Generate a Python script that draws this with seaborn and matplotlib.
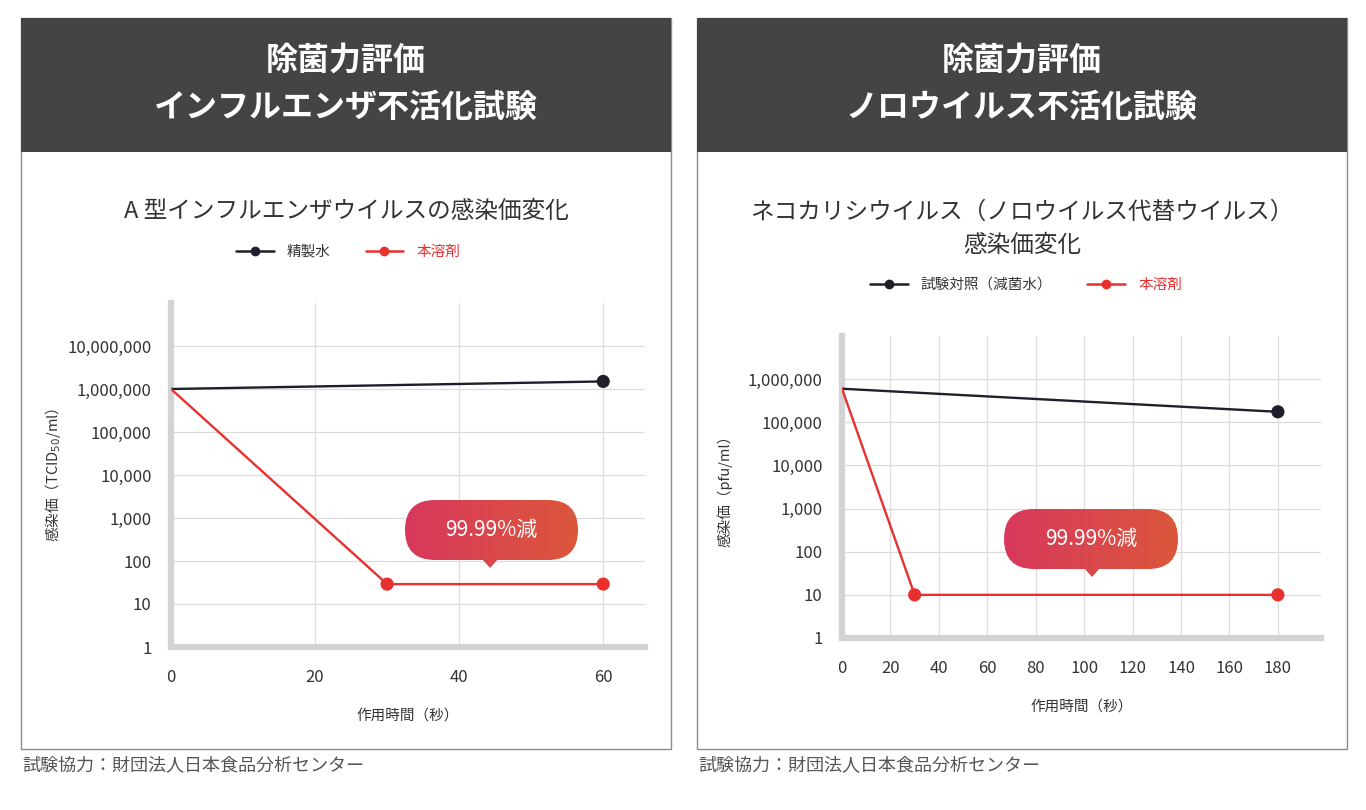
import numpy as np
import pandas as pd
import matplotlib
matplotlib.use('Agg')
import matplotlib.pyplot as plt
import seaborn as sns
from matplotlib.patches import FancyBboxPatch, Polygon, Rectangle
from matplotlib.lines import Line2D
from matplotlib.colors import LinearSegmentedColormap
from matplotlib.ticker import NullLocator, FixedLocator

sns.set_style('white')
plt.rcParams['font.family'] = ['Noto Sans CJK JP', 'DejaVu Sans']

# --- datos: インフルエンザ ---
flu_labels = ['精製水', '本溶剤']
flu_water_t = [0, 60]
flu_water_v = [1_000_000, 1_500_000]
flu_agent_t = [0, 30, 60]
flu_agent_v = [1_000_000, 29, 29]
flu_xticks = [0, 20, 40, 60]
flu_yticks = [1, 10, 100, 1_000, 10_000, 100_000, 1_000_000, 10_000_000]

# --- datos: ノロウイルス ---
noro_labels = ['試験対照（減菌水）', '本溶剤']
noro_ctrl_t = [0, 180]
noro_ctrl_v = [600_000, 175_000]
noro_agent_t = [0, 30, 180]
noro_agent_v = [600_000, 10, 10]
noro_xticks = [0, 20, 40, 60, 80, 100, 120, 140, 160, 180]
noro_yticks = [1, 10, 100, 1_000, 10_000, 100_000, 1_000_000]

DARK = '#1f1f2b'
RED = '#e8312f'
TXT = '#333333'
W, H = 1366, 810


def to_long(t1, v1, t2, v2, labels):
    a = pd.DataFrame({'time': t1, 'value': v1, 'series': labels[0]})
    b = pd.DataFrame({'time': t2, 'value': v2, 'series': labels[1]})
    return pd.concat([a, b], ignore_index=True)


def draw_chart(ax, df, labels, xticks, xlim, ylim, yticks, ylabel, xlab_y, ylab_x):
    pal = {labels[0]: DARK, labels[1]: RED}
    sns.lineplot(data=df, x='time', y='value', hue='series', palette=pal,
                 linewidth=1.7, legend=False, ax=ax, zorder=3)
    pts = df[df['time'] > 0]
    sns.scatterplot(data=pts, x='time', y='value', hue='series', palette=pal,
                    s=90, edgecolor='none', legend=False, ax=ax, zorder=4)
    ax.set_yscale('log')
    ax.set_xlim(*xlim)
    ax.set_ylim(*ylim)
    ax.yaxis.set_major_locator(FixedLocator(yticks))
    ax.yaxis.set_minor_locator(NullLocator())
    ax.set_yticklabels([f'{v:,}' for v in yticks])
    ax.set_xticks(xticks)
    ax.set_xticklabels([str(v) for v in xticks])
    ax.grid(True, color='#dcdcdc', linewidth=0.9)
    ax.set_axisbelow(True)
    for s in ['top', 'right']:
        ax.spines[s].set_visible(False)
    for s in ['left', 'bottom']:
        ax.spines[s].set_color('#d3d3d5')
        ax.spines[s].set_linewidth(4.5)
    ax.tick_params(axis='y', length=0, pad=14, labelsize=12, labelcolor=TXT)
    ax.tick_params(axis='x', length=0, pad=16, labelsize=12, labelcolor=TXT)
    ax.set_xlabel('作用時間（秒）', fontsize=10.5, color=TXT)
    ax.set_ylabel(ylabel, fontsize=10.5, color=TXT)
    ax.xaxis.set_label_coords(0.5, xlab_y)
    ax.yaxis.set_label_coords(ylab_x, 0.5)


fig = plt.figure(figsize=(W / 100, H / 100), dpi=100)

ax1 = fig.add_axes([171 / W, 1 - 647 / H, 474 / W, 344 / H])
ax2 = fig.add_axes([842 / W, 1 - 638 / H, 479 / W, 302 / H])

df_flu = to_long(flu_water_t, flu_water_v, flu_agent_t, flu_agent_v, flu_labels)
df_noro = to_long(noro_ctrl_t, noro_ctrl_v, noro_agent_t, noro_agent_v, noro_labels)

draw_chart(ax1, df_flu, flu_labels, flu_xticks, (0, 65.8), (1, 1e8), flu_yticks,
           r'感染価（TCID$_{50}$/ml）', -0.180, -0.228)
draw_chart(ax2, df_noro, noro_labels, noro_xticks, (0, 197.8), (1, 1e7), noro_yticks,
           '感染価（pfu/ml）', -0.205, -0.2276)

# leyendas
for labels, cx, cy in [(flu_labels, 348, 252), (noro_labels, 1026, 285)]:
    handles = [Line2D([], [], color=DARK, marker='o', markersize=6, lw=1.8),
               Line2D([], [], color=RED, marker='o', markersize=6, lw=1.8)]
    leg = fig.legend(handles, labels, loc='center', bbox_to_anchor=(cx / W, 1 - cy / H),
                     ncol=2, frameon=False, fontsize=10.5, handlelength=2.6,
                     columnspacing=2.4, handletextpad=0.9)
    leg.get_texts()[0].set_color(TXT)
    leg.get_texts()[1].set_color(RED)

# capa de decoracion en pixeles
ov = fig.add_axes([0, 0, 1, 1], zorder=10)
ov.patch.set_visible(False)
ov.axis('off')

headers = [('除菌力評価', 'インフルエンザ不活化試験', 21),
           ('除菌力評価', 'ノロウイルス不活化試験', 697)]
for line1, line2, x0 in headers:
    ov.add_patch(Rectangle((x0, 18), 650, 731, facecolor='none', edgecolor='#8c8c8c', lw=1))
    ov.add_patch(Rectangle((x0, 18), 650, 134, facecolor='#444444', edgecolor='none'))
    ov.text(x0 + 325, 61, line1, color='white', fontsize=23, fontweight='bold',
            ha='center', va='center')
    ov.text(x0 + 325, 108, line2, color='white', fontsize=23, fontweight='bold',
            ha='center', va='center')
    ov.text(x0 + 1, 765, '試験協力：財団法人日本食品分析センター', color='#555555',
            fontsize=13, ha='left', va='center')

ov.text(346, 212, 'A 型インフルエンザウイルスの感染価変化', color=TXT, fontsize=17,
        ha='center', va='center')
ov.text(1022, 212, 'ネコカリシウイルス（ノロウイルス代替ウイルス）', color=TXT, fontsize=17,
        ha='center', va='center')
ov.text(1022, 245, '感染価変化', color=TXT, fontsize=17, ha='center', va='center')

# burbujas "99.99%減"
c_left, c_right = '#d8385d', '#db573b'
cmap = LinearSegmentedColormap.from_list('bub', [c_left, c_right])
for bx, by, bw, bh, tipx in [(405, 500, 173, 60, 490), (1004, 509, 174, 60, 1092)]:
    pill = FancyBboxPatch((bx, by), bw, bh, boxstyle=f'round,pad=0,rounding_size={bh / 2}',
                          facecolor='none', edgecolor='none')
    ov.add_patch(pill)
    grad = ov.imshow(np.linspace(0, 1, 256).reshape(1, -1), cmap=cmap, aspect='auto',
                     extent=[bx, bx + bw, by + bh, by], interpolation='bilinear', zorder=2)
    grad.set_clip_path(pill)
    frac = (tipx - bx) / bw
    ov.add_patch(Polygon([(tipx - 8, by + bh - 1), (tipx + 8, by + bh - 1), (tipx, by + bh + 8)],
                         closed=True, facecolor=cmap(frac), edgecolor='none', zorder=2))
    ov.text(bx + bw / 2, by + bh / 2, '99.99%減', color='white', fontsize=15,
            ha='center', va='center', zorder=3)

ov.set_xlim(0, W)
ov.set_ylim(H, 0)

fig.savefig('out.png', dpi=100, facecolor='white')
